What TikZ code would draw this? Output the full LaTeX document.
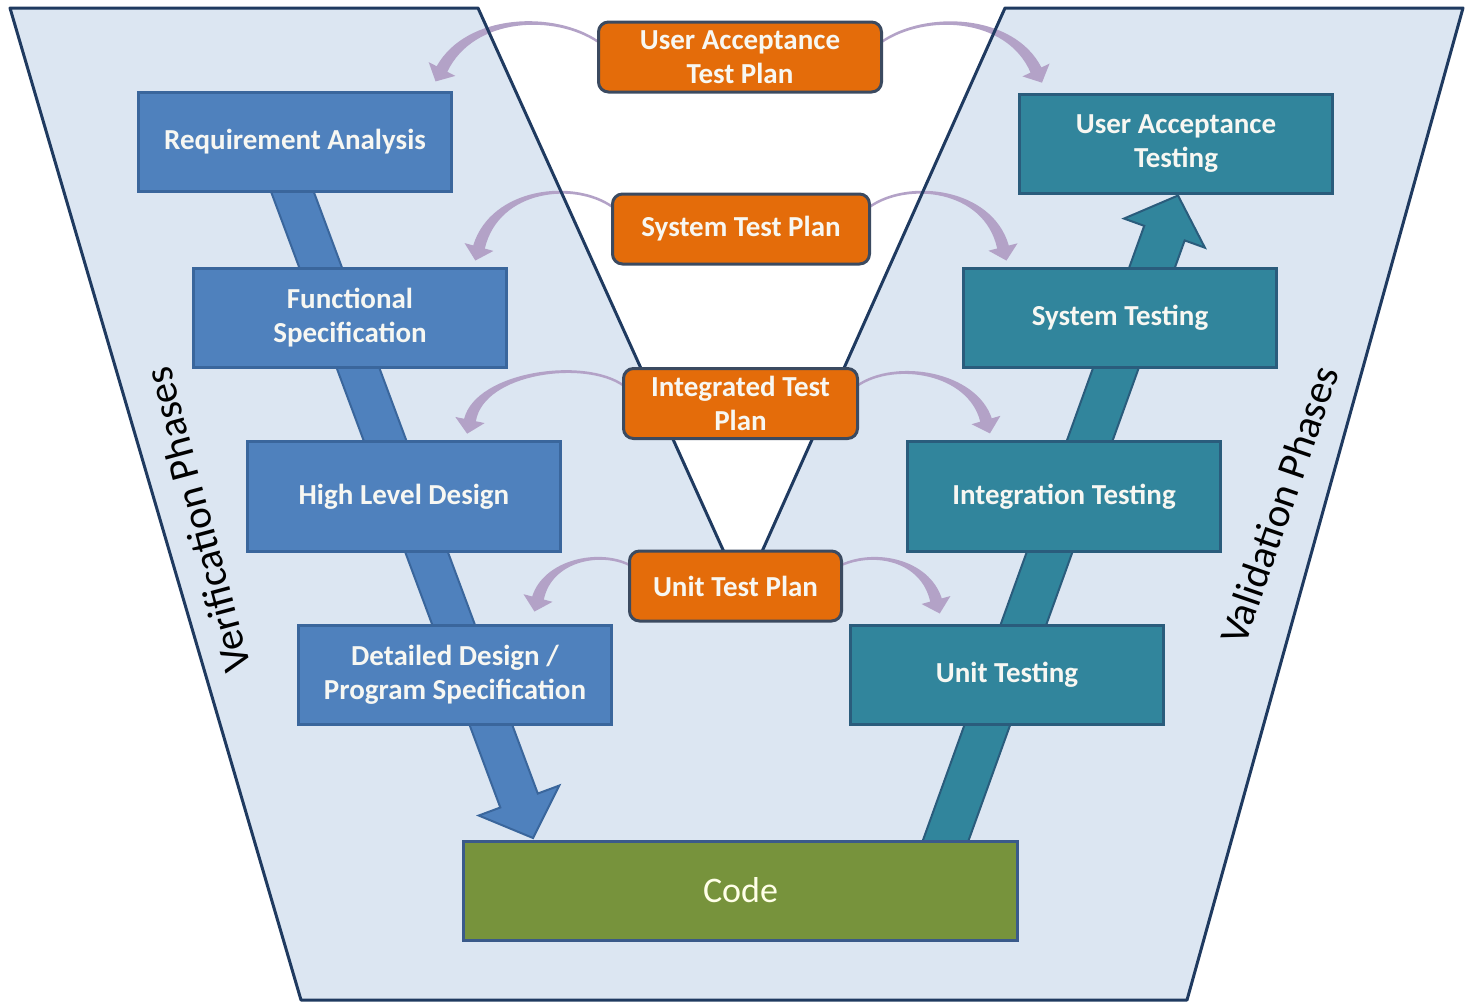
\documentclass[tikz,border=0pt]{standalone}
\usepackage{fontspec}
\setmainfont{Carlito}
\usetikzlibrary{calc}

\definecolor{panelfill}{HTML}{DCE6F2}
\definecolor{panelline}{HTML}{1F3A60}
\definecolor{verifyfill}{HTML}{4F81BD}
\definecolor{verifyline}{HTML}{3A669C}
\definecolor{validfill}{HTML}{31859C}
\definecolor{validline}{HTML}{2A5C7C}
\definecolor{planfill}{HTML}{E46C0A}
\definecolor{planline}{HTML}{3B4A60}
\definecolor{codefill}{HTML}{77933C}
\definecolor{codeline}{HTML}{3A5A8A}
\definecolor{linkpurple}{HTML}{B3A2C7}
\definecolor{labelwhite}{HTML}{F7F7F2}
\definecolor{codetext}{HTML}{FFFFE8}

\pgfdeclarelayer{panel}
\pgfdeclarelayer{links}
\pgfdeclarelayer{outline}
\pgfdeclarelayer{flow}
\pgfsetlayers{panel,links,outline,flow,main}

% tapered curved link: start, control 1, control 2, neck
\newcommand\planlink[4]{%
  \fill[linkpurple]
    ($(#1)!1.2pt!90:(#2)$)
      .. controls ($(#2)!2pt!90:(#3)$) and ($(#3)!4pt!90:(#4)$) .. ($(#4)!6pt!-90:(#3)$)
    -- ($(#4)!15pt!-90:(#3)$) -- ($(#4)!-14pt!(#3)$) -- ($(#4)!15pt!90:(#3)$)
    -- ($(#4)!6pt!90:(#3)$)
      .. controls ($(#3)!4pt!-90:(#4)$) and ($(#2)!2pt!-90:(#3)$) .. ($(#1)!1.2pt!-90:(#2)$)
    -- cycle;
}

\begin{document}
\begin{tikzpicture}[x=1pt,y=-1pt,
  box/.style={draw, line width=3pt, inner sep=0pt, outer sep=0pt,
    minimum width=313pt, minimum height=99pt, align=center,
    text=labelwhite, font=\fontsize{29}{34}\selectfont\bfseries},
  verify/.style={box, fill=verifyfill, draw=verifyline},
  valid/.style={box, fill=validfill, draw=validline},
  plan/.style={box, fill=planfill, draw=planline, rounded corners=10pt, minimum height=70pt},
  codebox/.style={box, fill=codefill, draw=codeline, minimum width=554pt,
    text=codetext, font=\fontsize{36}{40}\selectfont},
  phase/.style={font=\fontsize{41}{44}\selectfont, text=black, inner sep=0pt}
]
\useasboundingbox (0,0) rectangle (1466,1002);

% verification side
\node[verify] (ra) at (295,142) {Requirement Analysis};
\node[verify] (fs) at (350,317.5) {Functional\\Specification};
\node[verify, minimum height=110pt] (hld) at (404,496.5) {High Level Design};
\node[verify] (dd) at (455,674.5) {Detailed Design /\\Program Specification};

% validation side
\node[valid] (uat) at (1176,144) {User Acceptance\\Testing};
\node[valid] (st) at (1120,317.5) {System Testing};
\node[valid, minimum height=110pt] (it) at (1064,496.5) {Integration Testing};
\node[valid] (ut) at (1007,674.5) {Unit Testing};

% bottom of the V
\node[codebox] (code) at (740.5,890.5) {Code};

% test plans
\node[plan, minimum width=283pt] (uatp) at (740,57) {User Acceptance\\Test Plan};
\node[plan, minimum width=257pt] (stp) at (741,229) {System Test Plan};
\node[plan, minimum width=234pt] (itp) at (740.5,403.5) {Integrated Test\\Plan};
\node[plan, minimum width=212pt] (utp) at (735.5,586) {Unit Test Plan};

% side captions
\node[phase, rotate=105] (verif) at (197,520) {Verification Phases};
\node[phase, rotate=71] (validc) at (1279,505) {Validation Phases};

% panel
\begin{pgfonlayer}{panel}
  \fill[panelfill] (10,8) -- (478,8) -- (743,594) -- (1005,8) -- (1463,8)
    -- (1187,1000) -- (301,1000) -- cycle;
\end{pgfonlayer}
\begin{pgfonlayer}{outline}
  \draw[panelline, line width=3pt, line join=round] (10,8) -- (478,8) -- (743,594)
    -- (1005,8) -- (1463,8) -- (1187,1000) -- (301,1000) -- cycle;
\end{pgfonlayer}

% links from each test plan to its phases
\begin{pgfonlayer}{links}
  \planlink{[yshift=15pt]uatp.west}{555,12}{470,15}{442,69}
  \planlink{[yshift=15pt]uatp.east}{925,12}{1010,15}{1036,70}
  \planlink{[yshift=22pt]stp.west}{575,180}{495,188}{479,247}
  \planlink{[yshift=22pt]stp.east}{907,180}{988,188}{1003,247}
  \planlink{[yshift=18pt]itp.west}{585,358}{480,372}{470,420}
  \planlink{[yshift=18pt]itp.east}{895,360}{972,372}{986,420}
  \planlink{[yshift=21pt]utp.west}{600,550}{548,560}{538,598}
  \planlink{[yshift=21pt]utp.east}{875,550}{925,560}{936,600}
\end{pgfonlayer}

% flow arrows down the left and up the right
\begin{pgfonlayer}{flow}
  \coordinate (vTail) at ([xshift=-12pt,yshift=25pt]ra.south);
  \coordinate (vTip) at (533,838);
  \coordinate (vNeck) at ($(vTip)!40pt!(vTail)$);
  \filldraw[fill=verifyfill, draw=verifyline, line width=2pt]
    ($(vTail)!20pt!90:(vTip)$) -- ($(vNeck)!20pt!-90:(vTail)$)
    -- ($(vNeck)!43pt!-90:(vTail)$) -- (vTip) -- ($(vNeck)!43pt!90:(vTail)$)
    -- ($(vNeck)!20pt!90:(vTail)$) -- ($(vTail)!20pt!-90:(vTip)$) -- cycle;

  \coordinate (aTail) at ([xshift=196pt,yshift=-25pt]code.north);
  \coordinate (aTip) at ([xshift=2pt,yshift=-2pt]uat.south);
  \coordinate (aNeck) at ($(aTip)!40pt!(aTail)$);
  \filldraw[fill=validfill, draw=validline, line width=2pt]
    ($(aTail)!21.5pt!90:(aTip)$) -- ($(aNeck)!21.5pt!-90:(aTail)$)
    -- ($(aNeck)!43pt!-90:(aTail)$) -- (aTip) -- ($(aNeck)!43pt!90:(aTail)$)
    -- ($(aNeck)!21.5pt!90:(aTail)$) -- ($(aTail)!21.5pt!-90:(aTip)$) -- cycle;
\end{pgfonlayer}
\end{tikzpicture}
\end{document}
